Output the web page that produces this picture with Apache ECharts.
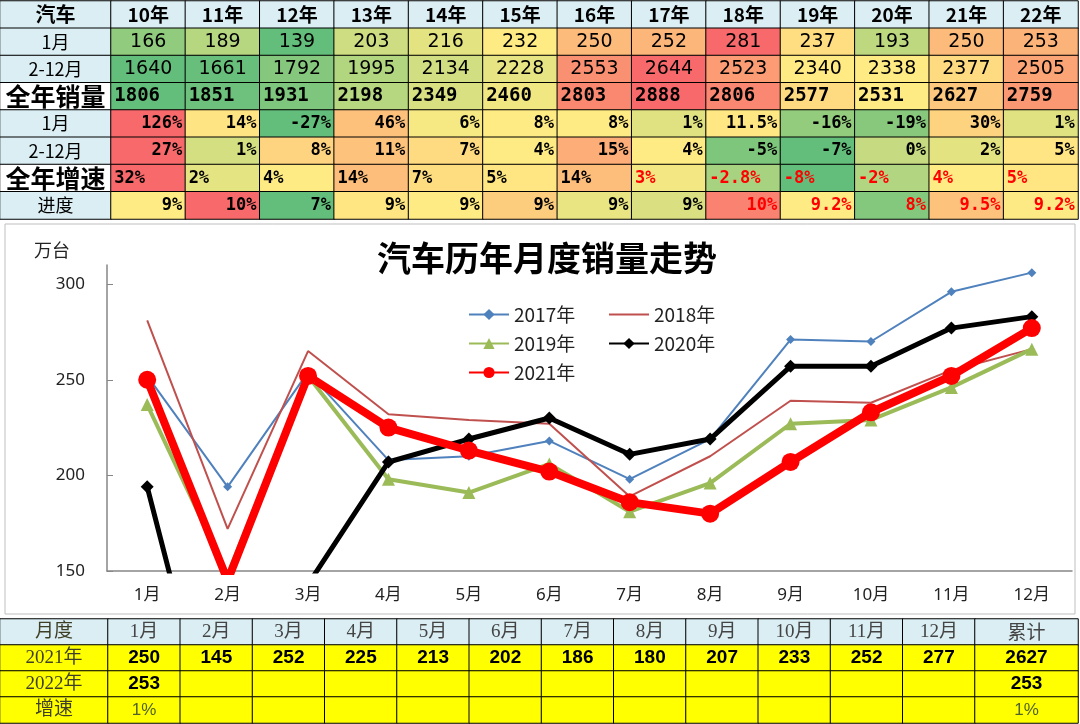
<!DOCTYPE html>
<html>
<head>
<meta charset="utf-8">
<script src="https://cdn.jsdelivr.net/npm/echarts@6/dist/echarts.min.js"></script>
<style>
  html, body { margin: 0; padding: 0; background: #fff; }
  #main { width: 1080px; height: 724px; }
</style>
</head>
<body>
<div id="main"></div>
<script>
/* 上表：历年销量 */
const years = ['10年', '11年', '12年', '13年', '14年', '15年', '16年', '17年', '18年', '19年', '20年', '21年', '22年'];
const rowNames = ['汽车', '1月', '2-12月', '全年销量', '1月', '2-12月', '全年增速', '进度'];
const janSales = [166, 189, 139, 203, 216, 232, 250, 252, 281, 237, 193, 250, 253];
const restSales = [1640, 1661, 1792, 1995, 2134, 2228, 2553, 2644, 2523, 2340, 2338, 2377, 2505];
const yearSales = [1806, 1851, 1931, 2198, 2349, 2460, 2803, 2888, 2806, 2577, 2531, 2627, 2759];
const janGrowth = [126, 14, -27, 46, 6, 8, 8, 1, 11.5, -16, -19, 30, 1];
const restGrowth = [27, 1, 8, 11, 7, 4, 15, 4, -5, -7, 0, 2, 5];
const yearGrowth = [32, 2, 4, 14, 7, 5, 14, 3, -2.8, -8, -2, 4, 5];
const progressText = ['9%', '10%', '7%', '9%', '9%', '9%', '9%', '9%', '10%', '9.2%', '8%', '9.5%', '9.2%'];

/* 折线图：月度销量（万台） */
const months = ['1月', '2月', '3月', '4月', '5月', '6月', '7月', '8月', '9月', '10月', '11月', '12月'];
const s2017 = [252, 194, 254, 208, 210, 218, 198, 219, 271, 270, 296, 306];
const s2018 = [281, 172, 265, 232, 229, 227, 189, 210, 239, 238, 255, 266];
const s2019 = [237, 148, 252, 198, 191, 206, 181, 196, 227, 229, 246, 266];
const s2020 = [194, 31, 143, 207, 219, 230, 211, 219, 257, 257, 277, 283];
const s2021 = [250, 145, 252, 225, 213, 202, 186, 180, 207, 233, 252, 277];

/* 下表 */
const bottomRows = ['月度', '2021年', '2022年', '增速'];
const sales2022 = [253];
const growth2022 = ['1%'];
const total2021 = 2627;
const total2022 = 253;
const totalGrowth = '1%';

const GREEN = '#63BE7B', YELLOW = '#FFEB84', RED = '#F8696B';
const HEAD = '#DAEEF3', CELL_YELLOW = '#FFFF00';
const CJK = 'Noto Sans CJK SC';

// Excel 三色刻度：最小值-中位数-最大值
function excelScale(vals) {
  const s = vals.slice().sort((a, b) => a - b);
  const n = s.length;
  const min = s[0], max = s[n - 1];
  const med = n % 2 ? s[(n - 1) / 2] : (s[n / 2 - 1] + s[n / 2]) / 2;
  return vals.map(v => v <= med
    ? (med === min ? 0.5 : 0.5 * (v - min) / (med - min))
    : 0.5 + 0.5 * (v - med) / (max - med));
}

const pct = v => v + '%';
const progress = janSales.map((v, i) => v / yearSales[i]);

const topRows = [
  { vals: janSales, text: janSales, pos: 'inside', font: 'DejaVu Sans', size: 19, weight: 'normal' },
  { vals: restSales, text: restSales, pos: 'inside', font: 'DejaVu Sans', size: 19, weight: 'normal' },
  { vals: yearSales, text: yearSales, pos: 'insideLeft', font: 'DejaVu Sans Mono', size: 19, weight: 'bold' },
  { vals: janGrowth, text: janGrowth.map(pct), pos: 'insideRight', font: 'DejaVu Sans Mono', size: 17, weight: 'bold' },
  { vals: restGrowth, text: restGrowth.map(pct), pos: 'insideRight', font: 'DejaVu Sans Mono', size: 17, weight: 'bold' },
  { vals: yearGrowth, text: yearGrowth.map(pct), pos: 'insideLeft', font: 'DejaVu Sans Mono', size: 17, weight: 'bold', redFrom: 7 },
  { vals: progress, text: progressText, pos: 'insideRight', font: 'DejaVu Sans Mono', size: 17, weight: 'bold', redFrom: 8 },
];

const border = { borderColor: '#000', borderWidth: 1 };
const series = [];
const visualMaps = [];

// 上表左侧标题列
series.push({
  type: 'heatmap', xAxisIndex: 0, yAxisIndex: 0,
  data: rowNames.map((name, r) => {
    const big = r === 3 || r === 6;
    return {
      value: [0, r, 0],
      itemStyle: { color: big ? '#fff' : HEAD },
      label: {
        fontSize: big ? 25 : (r === 0 ? 20 : 18),
        fontWeight: big || r === 0 ? 'bold' : 'normal'
      }
    };
  }),
  itemStyle: border,
  label: { show: true, formatter: p => rowNames[p.value[1]], color: '#000', fontFamily: CJK }
});

// 上表年份表头
series.push({
  type: 'heatmap', xAxisIndex: 1, yAxisIndex: 1,
  data: years.map((y, i) => [i, 0, 0]),
  itemStyle: Object.assign({ color: HEAD }, border),
  label: { show: true, formatter: p => years[p.value[0]], color: '#000', fontFamily: CJK, fontSize: 19, fontWeight: 'bold' }
});

// 上表数据行
topRows.forEach((row, k) => {
  const t = excelScale(row.vals);
  visualMaps.push({
    type: 'continuous', show: false, min: 0, max: 1, dimension: 2,
    seriesIndex: series.length, inRange: { color: [GREEN, YELLOW, RED] }
  });
  series.push({
    type: 'heatmap', xAxisIndex: 1, yAxisIndex: 1,
    data: years.map((y, i) => ({
      value: [i, k + 1, t[i]],
      label: { color: row.redFrom !== undefined && i >= row.redFrom ? '#FF0000' : '#000' }
    })),
    itemStyle: border,
    label: {
      show: true, position: row.pos, distance: 4,
      formatter: p => String(row.text[p.value[0]]),
      fontFamily: row.font, fontSize: row.size, fontWeight: row.weight
    }
  });
});

// 折线
const lineSeries = [
  { name: '2017年', data: s2017, color: '#4F81BD', width: 2, symbol: 'diamond', size: 9 },
  { name: '2018年', data: s2018, color: '#C0504D', width: 2, symbol: 'none', size: 0 },
  { name: '2019年', data: s2019, color: '#9BBB59', width: 4, symbol: 'triangle', size: 13 },
  { name: '2020年', data: s2020, color: '#000000', width: 5, symbol: 'diamond', size: 13 },
  { name: '2021年', data: s2021, color: '#FF0000', width: 8, symbol: 'circle', size: 18 },
];
lineSeries.forEach(s => {
  series.push({
    type: 'line', name: s.name, xAxisIndex: 2, yAxisIndex: 2,
    data: s.data, symbol: s.symbol, symbolSize: s.size, showSymbol: s.symbol !== 'none',
    clip: true,
    itemStyle: { color: s.symbol === 'none' ? 'rgba(0,0,0,0)' : s.color, borderWidth: 0 },
    lineStyle: { color: s.color, width: s.width }
  });
});

// 下表左侧标题列
series.push({
  type: 'heatmap', xAxisIndex: 3, yAxisIndex: 3,
  data: bottomRows.map((name, r) => ({ value: [0, r, 0], itemStyle: { color: r === 0 ? HEAD : CELL_YELLOW } })),
  itemStyle: border,
  label: { show: true, formatter: p => bottomRows[p.value[1]], color: '#3f3f26', fontFamily: 'Liberation Serif, ' + CJK, fontSize: 19 }
});

// 下表月份
series.push({
  type: 'heatmap', xAxisIndex: 4, yAxisIndex: 4,
  data: months.map((m, i) => [i, 0, 0]),
  itemStyle: Object.assign({ color: HEAD }, border),
  label: { show: true, formatter: p => months[p.value[0]], color: '#444', fontFamily: 'Liberation Serif, ' + CJK, fontSize: 19 }
});
const valueLabel = { show: true, color: '#000', fontFamily: 'Liberation Sans', fontSize: 19, fontWeight: 'bold' };
series.push({
  type: 'heatmap', xAxisIndex: 4, yAxisIndex: 4,
  data: months.map((m, i) => [i, 1, 0]),
  itemStyle: Object.assign({ color: CELL_YELLOW }, border),
  label: Object.assign({ formatter: p => String(s2021[p.value[0]]) }, valueLabel)
});
series.push({
  type: 'heatmap', xAxisIndex: 4, yAxisIndex: 4,
  data: months.map((m, i) => [i, 2, 0]),
  itemStyle: Object.assign({ color: CELL_YELLOW }, border),
  label: Object.assign({}, valueLabel, { formatter: p => sales2022[p.value[0]] !== undefined ? String(sales2022[p.value[0]]) : '' })
});
series.push({
  type: 'heatmap', xAxisIndex: 4, yAxisIndex: 4,
  data: months.map((m, i) => [i, 3, 0]),
  itemStyle: Object.assign({ color: CELL_YELLOW }, border),
  label: { show: true, formatter: p => growth2022[p.value[0]] || '', color: '#4F6228', fontFamily: 'Liberation Sans Narrow, Liberation Sans', fontSize: 17 }
});

// 下表累计列
const totalText = ['累计', String(total2021), String(total2022), totalGrowth];
series.push({
  type: 'heatmap', xAxisIndex: 5, yAxisIndex: 5,
  data: totalText.map((t, r) => {
    const item = { value: [0, r, 0], itemStyle: { color: r === 0 ? HEAD : CELL_YELLOW } };
    if (r === 0) item.label = { color: '#444', fontFamily: CJK, fontWeight: 'normal', fontSize: 19 };
    if (r === 3) item.label = { color: '#4F6228', fontFamily: 'Liberation Sans Narrow, Liberation Sans', fontWeight: 'normal', fontSize: 17 };
    return item;
  }),
  itemStyle: border,
  label: Object.assign({}, valueLabel, { formatter: p => totalText[p.value[1]] })
});

const hiddenCat = (grid, data, inverse) => ({
  type: 'category', gridIndex: grid, data: data, show: false, inverse: !!inverse
});

const legendText = { fontFamily: 'Liberation Sans Narrow, ' + CJK, fontSize: 19, color: '#222' };

const option = {
  animation: false,
  backgroundColor: '#fff',
  title: {
    text: '汽车历年月度销量走势', left: 372, top: 236,
    textStyle: { fontFamily: CJK, fontSize: 34, fontWeight: 'bold', color: '#000' }
  },
  graphic: [{
    type: 'rect', z: -10,
    shape: { x: 5, y: 224, width: 1070, height: 390 },
    style: { fill: '#fff', stroke: '#BFBFBF', lineWidth: 1 }
  }],
  legend: [
    {
      data: ['2017年', '2019年', '2021年'], orient: 'vertical', left: 463, top: 300,
      itemWidth: 40, itemHeight: 14, itemGap: 10, textStyle: legendText
    },
    {
      data: ['2018年', '2020年'], orient: 'vertical', left: 603, top: 300,
      itemWidth: 40, itemHeight: 14, itemGap: 10, textStyle: legendText
    }
  ],
  grid: [
    { left: 0, top: 1, width: 111, height: 218 },
    { left: 111, top: 1, width: 967, height: 218 },
    { left: 107, top: 265, width: 965, height: 306 },
    { left: 0, top: 619, width: 108, height: 104 },
    { left: 108, top: 619, width: 867, height: 104 },
    { left: 975, top: 619, width: 103, height: 104 }
  ],
  xAxis: [
    hiddenCat(0, ['汽车']),
    hiddenCat(1, years),
    {
      type: 'category', gridIndex: 2, data: months, boundaryGap: true,
      axisLine: { lineStyle: { color: '#868686', width: 1.5 } },
      axisTick: { inside: true, length: 6, lineStyle: { color: '#868686' } },
      axisLabel: { color: '#222', fontFamily: 'Noto Sans, ' + CJK, fontSize: 17, margin: 16 }
    },
    hiddenCat(3, ['月度']),
    hiddenCat(4, months),
    hiddenCat(5, ['累计'])
  ],
  yAxis: [
    hiddenCat(0, rowNames.map((n, i) => i), true),
    hiddenCat(1, rowNames.map((n, i) => i), true),
    {
      type: 'value', gridIndex: 2, min: 150, max: 310, interval: 50,
      name: '万台', nameLocation: 'end', nameGap: 6,
      nameTextStyle: { align: 'right', padding: [0, 37, 0, 0], color: '#222', fontFamily: CJK, fontSize: 18 },
      axisLine: { show: true, lineStyle: { color: '#868686', width: 1.5 } },
      axisTick: { show: true, inside: true, length: 6, lineStyle: { color: '#868686' } },
      axisLabel: { showMaxLabel: false, color: '#222', fontFamily: 'Noto Sans', fontSize: 17, margin: 22 },
      splitLine: { show: false }
    },
    hiddenCat(3, bottomRows.map((n, i) => i), true),
    hiddenCat(4, bottomRows.map((n, i) => i), true),
    hiddenCat(5, bottomRows.map((n, i) => i), true)
  ],
  visualMap: visualMaps,
  series: series
};

const chart = echarts.init(document.getElementById('main'));
chart.setOption(option);
</script>
</body>
</html>
